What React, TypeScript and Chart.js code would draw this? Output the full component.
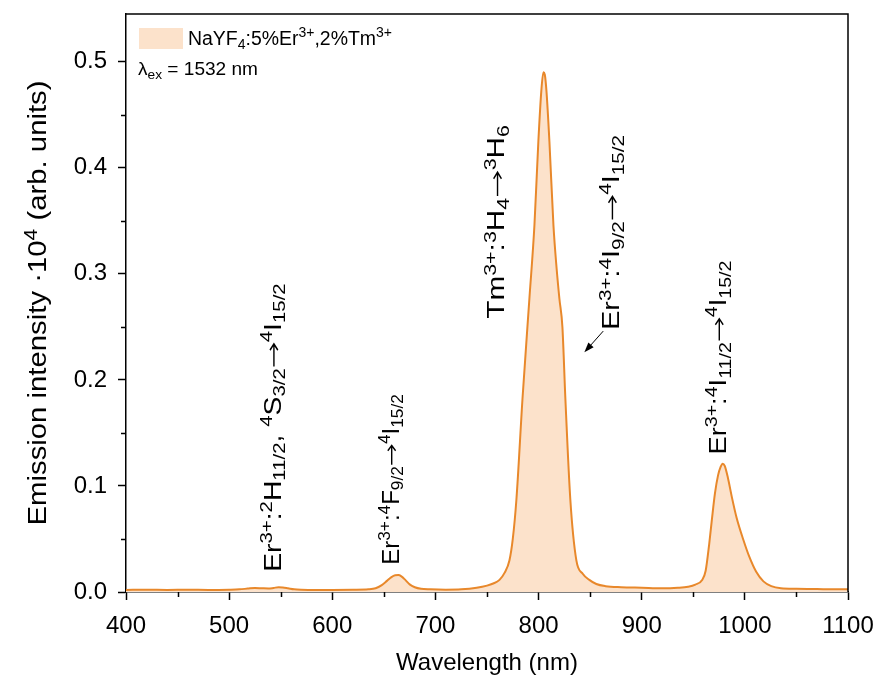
import React, { useEffect, useRef } from 'react';
import { Chart, registerables } from 'chart.js';

Chart.register(...registerables);

// ---- Data ----
const wavelengths = [
  400, 420, 440, 460, 480, 500, 510, 518, 525, 532, 538, 543, 548, 552, 557, 563, 570, 585,
  600, 620, 635, 642, 648, 653, 657, 661, 664, 667, 671, 675, 680, 686, 695, 710, 725,
  740, 750, 756, 762.1, 767, 771.8, 775, 778.5, 784.4, 791.1, 796, 799.8, 802.7, 804.7,
  806, 807.6, 810.5, 814.4, 817.5, 820.2, 823.1, 826, 830.8, 836.6, 843, 849.2, 856, 865, 880, 900, 920,
  935, 945, 952, 958.6, 962, 965.4, 968, 971, 974, 976.5, 978.5, 980.5, 983.5, 987.5, 992,
  998.6, 1004, 1011, 1018, 1025.6, 1035, 1050, 1070, 1085, 1100,
];
const intensities = [
  0.002, 0.0022, 0.002, 0.0021, 0.002, 0.0022, 0.0025, 0.0032, 0.0038, 0.0035, 0.0033, 0.0038, 0.0045, 0.0042, 0.0035, 0.0026, 0.0022, 0.002,
  0.002, 0.0021, 0.0025, 0.0035, 0.0065, 0.0105, 0.0138, 0.0158, 0.016, 0.0148, 0.0112, 0.0072, 0.0045, 0.003, 0.0025, 0.0022, 0.0025,
  0.004, 0.006, 0.008, 0.0114, 0.018, 0.03, 0.05, 0.087, 0.182, 0.2765, 0.346, 0.425, 0.473, 0.49,
  0.488, 0.473, 0.425, 0.346, 0.305, 0.2765, 0.25, 0.182, 0.087, 0.03, 0.017, 0.0114, 0.0075, 0.0055, 0.0045, 0.004, 0.0035,
  0.004, 0.005, 0.007, 0.0114, 0.02, 0.045, 0.068, 0.093, 0.11, 0.118, 0.121, 0.119, 0.108, 0.089, 0.07,
  0.049, 0.034, 0.019, 0.01, 0.0055, 0.0035, 0.003, 0.0028, 0.0025, 0.0025,
];

const xMin = 400;
const xMax = 1100;
const xStep = 100;
const xMinorTicks = [450, 550, 650, 750, 850, 950, 1050];
const yMin = 0;
const yMax = 0.545;
const yStep = 0.1;
const yMinorTicks = [0.05, 0.15, 0.25, 0.35, 0.45];

const xTitle = 'Wavelength (nm)';
type Kind = 'n' | 'sup' | 'sub' | 'arrow';
type Seg = [string, Kind];
const yTitle: Seg[] = [['Emission intensity ·10', 'n'], ['4', 'sup'], [' (arb. units)', 'n']];
const legendLabel: Seg[] = [
  ['NaYF', 'n'], ['4', 'sub'], [':5%Er', 'n'], ['3+', 'sup'], [',2%Tm', 'n'], ['3+', 'sup'],
];
const excitationLabel: Seg[] = [['λ', 'n'], ['ex', 'sub'], [' = 1532 nm', 'n']];

// annotation anchors in data units: baseline wavelength, start & end intensity
const annotationTexts: Seg[][] = [
  [['Er', 'n'], ['3+', 'sup'], [':', 'n'], ['2', 'sup'], ['H', 'n'], ['11/2', 'sub'], [', ', 'n'], ['4', 'sup'], ['S', 'n'], ['3/2', 'sub'], ['→', 'arrow'], ['4', 'sup'], ['I', 'n'], ['15/2', 'sub']],
  [['Er', 'n'], ['3+', 'sup'], [':', 'n'], ['4', 'sup'], ['F', 'n'], ['9/2', 'sub'], ['→', 'arrow'], ['4', 'sup'], ['I', 'n'], ['15/2', 'sub']],
  [['Tm', 'n'], ['3+', 'sup'], [':', 'n'], ['3', 'sup'], ['H', 'n'], ['4', 'sub'], ['→', 'arrow'], ['3', 'sup'], ['H', 'n'], ['6', 'sub']],
  [['Er', 'n'], ['3+', 'sup'], [':', 'n'], ['4', 'sup'], ['I', 'n'], ['9/2', 'sub'], ['→', 'arrow'], ['4', 'sup'], ['I', 'n'], ['15/2', 'sub']],
  [['Er', 'n'], ['3+', 'sup'], [':', 'n'], ['4', 'sup'], ['I', 'n'], ['11/2', 'sub'], ['→', 'arrow'], ['4', 'sup'], ['I', 'n'], ['15/2', 'sub']],
];
const annotationX = [550.1, 664.3, 766.9, 878.3, 981.9];
const annotationStart = [0.019, 0.0256, 0.2576, 0.2472, 0.1297];
const annotationEnd = [0.291, 0.1866, 0.4403, 0.4309, 0.3125];
// arrow for the Er 4I9/2 label: [wavelength, intensity] tail -> head
const arrowTail = [862.7, 0.246];
const arrowHead = [844.4, 0.226];

const FONT = '"Liberation Sans", Arial, Helvetica, sans-serif';
const LINE_COLOR = '#E8882B';
const FILL_COLOR = '#FCE2CB';

function segFont(size: number, kind: Kind) {
  const s = kind === 'sup' || kind === 'sub' ? size * 0.72 : size;
  return `${s}px ${FONT}`;
}
function segWidth(ctx: CanvasRenderingContext2D, t: string, k: Kind, size: number) {
  if (k === 'arrow') return size * 0.92;
  ctx.font = segFont(size, k);
  return ctx.measureText(t).width;
}
function measureRich(ctx: CanvasRenderingContext2D, segs: Seg[], size: number) {
  let w = 0;
  for (const [t, k] of segs) w += segWidth(ctx, t, k, size);
  return w;
}
function drawRich(ctx: CanvasRenderingContext2D, segs: Seg[], size: number) {
  let x = 0;
  for (const [t, k] of segs) {
    const w = segWidth(ctx, t, k, size);
    if (k === 'arrow') {
      const ay = -size * 0.3;
      const x0 = x + size * 0.06;
      const x1 = x + w - size * 0.06;
      ctx.save();
      ctx.strokeStyle = '#000';
      ctx.lineWidth = 1.4;
      ctx.beginPath();
      ctx.moveTo(x0, ay);
      ctx.lineTo(x1, ay);
      ctx.moveTo(x1 - size * 0.22, ay - size * 0.17);
      ctx.lineTo(x1, ay);
      ctx.lineTo(x1 - size * 0.22, ay + size * 0.17);
      ctx.stroke();
      ctx.restore();
    } else {
      ctx.font = segFont(size, k);
      const dy = k === 'sup' ? -size * 0.38 : k === 'sub' ? size * 0.2 : 0;
      ctx.fillText(t, x, dy);
    }
    x += w;
  }
}
// draw rich text from (x,y) along a direction, fitted to a given length
function drawFitted(
  ctx: CanvasRenderingContext2D, segs: Seg[], size: number,
  x: number, y: number, length: number, rotated: boolean,
) {
  const w = measureRich(ctx, segs, size);
  const s = length / w;
  ctx.save();
  ctx.translate(x, y);
  if (rotated) ctx.rotate(-Math.PI / 2);
  ctx.scale(s, 1);
  ctx.fillStyle = '#000';
  ctx.textBaseline = 'alphabetic';
  ctx.textAlign = 'left';
  drawRich(ctx, segs, size);
  ctx.restore();
}

const decorPlugin = {
  id: 'decor',
  afterDraw(chart: any) {
    const ctx: CanvasRenderingContext2D = chart.ctx;
    const xs = chart.scales.x;
    const ys = chart.scales.y;
    const { left, right, top, bottom } = chart.chartArea;
    ctx.save();
    // frame top & right
    ctx.strokeStyle = '#000';
    ctx.lineWidth = 1.5;
    ctx.beginPath();
    ctx.moveTo(left, top);
    ctx.lineTo(right, top);
    ctx.lineTo(right, bottom);
    ctx.stroke();
    // minor ticks
    ctx.beginPath();
    for (const v of xMinorTicks) {
      const px = Math.round(xs.getPixelForValue(v)) + 0.5;
      ctx.moveTo(px, bottom);
      ctx.lineTo(px, bottom + 5);
    }
    for (const v of yMinorTicks) {
      const py = Math.round(ys.getPixelForValue(v)) + 0.5;
      ctx.moveTo(left, py);
      ctx.lineTo(left - 5, py);
    }
    ctx.stroke();

    // annotations
    for (let i = 0; i < annotationTexts.length; i++) {
      const bx = xs.getPixelForValue(annotationX[i]);
      const y0 = ys.getPixelForValue(annotationStart[i]);
      const y1 = ys.getPixelForValue(annotationEnd[i]);
      drawFitted(ctx, annotationTexts[i], 23, bx, y0, y0 - y1, true);
    }
    // arrow
    const tx = xs.getPixelForValue(arrowTail[0]);
    const ty = ys.getPixelForValue(arrowTail[1]);
    const hx = xs.getPixelForValue(arrowHead[0]);
    const hy = ys.getPixelForValue(arrowHead[1]);
    const ang = Math.atan2(hy - ty, hx - tx);
    ctx.strokeStyle = '#000';
    ctx.fillStyle = '#000';
    ctx.lineWidth = 1;
    ctx.beginPath();
    ctx.moveTo(tx, ty);
    ctx.lineTo(hx - Math.cos(ang) * 6, hy - Math.sin(ang) * 6);
    ctx.stroke();
    ctx.beginPath();
    ctx.moveTo(hx, hy);
    ctx.lineTo(hx - Math.cos(ang) * 10 + Math.sin(ang) * 3.5, hy - Math.sin(ang) * 10 - Math.cos(ang) * 3.5);
    ctx.lineTo(hx - Math.cos(ang) * 10 - Math.sin(ang) * 3.5, hy - Math.sin(ang) * 10 + Math.cos(ang) * 3.5);
    ctx.closePath();
    ctx.fill();

    // legend
    ctx.fillStyle = FILL_COLOR;
    ctx.fillRect(left + 13, top + 14, 44, 21);
    drawFitted(ctx, legendLabel, 20, left + 62, top + 31, 204, false);
    drawFitted(ctx, excitationLabel, 17.5, left + 12, top + 61, 120, false);

    // axis titles
    const cx = (left + right) / 2;
    ctx.font = `24px ${FONT}`;
    ctx.fillStyle = '#000';
    ctx.textAlign = 'center';
    ctx.textBaseline = 'alphabetic';
    ctx.fillText(xTitle, cx, bottom + 78);
    const cy = (top + bottom) / 2;
    const yLen = 445;
    drawFitted(ctx, yTitle, 25, 46, cy + yLen / 2, yLen, true);
    ctx.restore();
  },
};

export default function App() {
  const ref = useRef<HTMLCanvasElement | null>(null);
  useEffect(() => {
    if (!ref.current) return;
    const points = wavelengths.map((w, i) => ({ x: w, y: intensities[i] }));
    const chart = new Chart(ref.current, {
      type: 'line',
      data: {
        datasets: [
          {
            label: 'NaYF4:5%Er3+,2%Tm3+',
            data: points,
            borderColor: LINE_COLOR,
            backgroundColor: FILL_COLOR,
            borderWidth: 2,
            pointRadius: 0,
            fill: 'origin',
            cubicInterpolationMode: 'monotone',
          },
        ],
      },
      options: {
        responsive: false,
        animation: false,
        layout: { padding: { left: 0, right: 33, top: 14, bottom: 0 } },
        plugins: { legend: { display: false }, tooltip: { enabled: false } },
        scales: {
          x: {
            type: 'linear',
            min: xMin,
            max: xMax,
            ticks: {
              stepSize: xStep,
              color: '#000',
              font: { family: FONT, size: 24, lineHeight: 1 },
              padding: 14,
              maxRotation: 0,
              includeBounds: false,
              callback: (v: any) => String(v),
            },
            grid: { drawOnChartArea: false, drawTicks: true, tickLength: 8, tickWidth: 1.5, tickColor: '#000' },
            border: { display: true, color: '#000', width: 1.5 },
            afterFit: (s: any) => { s.height = 98; s.paddingLeft = 0; s.paddingRight = 0; },
          },
          y: {
            type: 'linear',
            min: yMin,
            max: yMax,
            ticks: {
              stepSize: yStep,
              color: '#000',
              font: { family: FONT, size: 24, lineHeight: 1 },
              padding: 11,
              includeBounds: false,
              callback: (v: any) => Number(v).toFixed(1),
            },
            grid: { drawOnChartArea: false, drawTicks: true, tickLength: 8, tickWidth: 1.5, tickColor: '#000' },
            border: { display: true, color: '#000', width: 1.5 },
            afterFit: (s: any) => { s.width = 126; s.paddingTop = 0; s.paddingBottom = 0; },
          },
        },
      },
      plugins: [decorPlugin],
    });
    return () => chart.destroy();
  }, []);
  return (
    <div style={{ position: 'absolute', left: 0, top: 0, width: 881, height: 690, background: '#fff' }}>
      <canvas ref={ref} width={881} height={690} />
    </div>
  );
}
